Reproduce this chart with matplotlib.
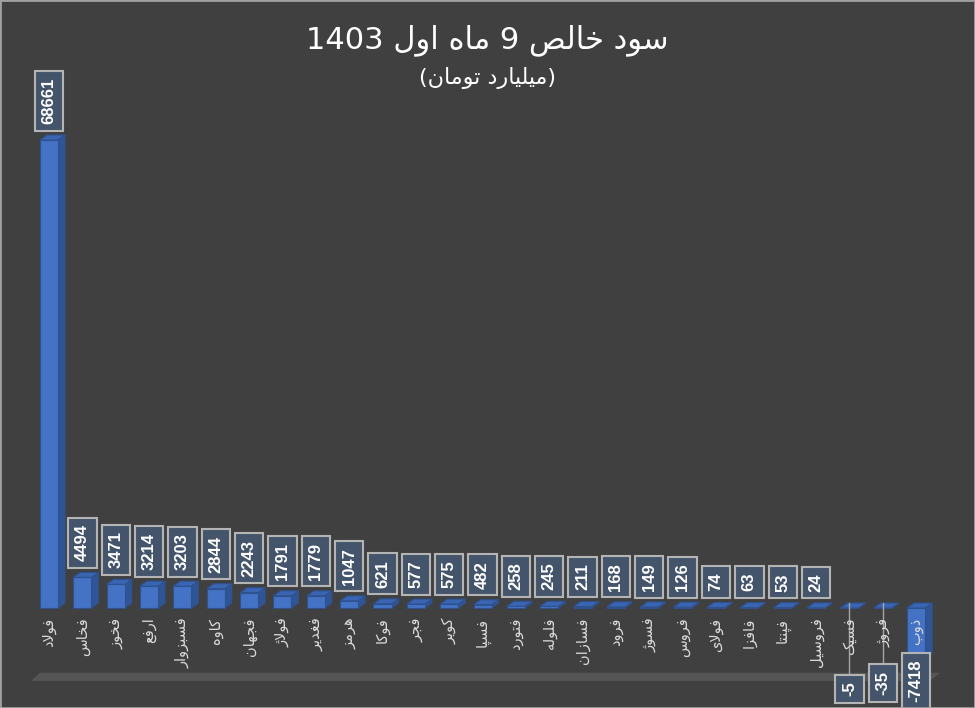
import matplotlib
matplotlib.use("Agg")
import matplotlib.pyplot as plt
from matplotlib.patches import Polygon, Rectangle

# داده‌ها (میلیارد تومان)
names = ["فولاد", "فخاس", "فخوز", "ارفع", "فسبزوار", "کاوه", "فجهان", "فولاژ", "فغدیر",
         "هرمز", "فوکا", "فجر", "کویر", "فسپا", "فتورد", "فلوله", "فسازان", "فرود",
         "فسوژ", "فروس", "فولای", "فافزا", "فپنتا", "فروسیل", "فسیک", "فروژ", "ذوب"]
profits = [68661, 4494, 3471, 3214, 3203, 2844, 2243, 1791, 1779, 1047, 621, 577, 575,
           482, 258, 245, 211, 168, 149, 126, 74, 63, 53, 24, -5, -35, -7418]

title = "سود خالص 9 ماه اول 1403"
subtitle = "(میلیارد تومان)"

# شکل‌دهی حروف فارسی (matplotlib خودش این کار را نمی‌کند)
FORMS = {
    'ا': ('\uFE8D', '\uFE8E', None, None),
    'ب': ('\uFE8F', '\uFE90', '\uFE91', '\uFE92'),
    'پ': ('\uFB56', '\uFB57', '\uFB58', '\uFB59'),
    'ت': ('\uFE95', '\uFE96', '\uFE97', '\uFE98'),
    'ج': ('\uFE9D', '\uFE9E', '\uFE9F', '\uFEA0'),
    'خ': ('\uFEA5', '\uFEA6', '\uFEA7', '\uFEA8'),
    'د': ('\uFEA9', '\uFEAA', None, None),
    'ذ': ('\uFEAB', '\uFEAC', None, None),
    'ر': ('\uFEAD', '\uFEAE', None, None),
    'ز': ('\uFEAF', '\uFEB0', None, None),
    'ژ': ('\uFB8A', '\uFB8B', None, None),
    'س': ('\uFEB1', '\uFEB2', '\uFEB3', '\uFEB4'),
    'ص': ('\uFEB9', '\uFEBA', '\uFEBB', '\uFEBC'),
    'ع': ('\uFEC9', '\uFECA', '\uFECB', '\uFECC'),
    'غ': ('\uFECD', '\uFECE', '\uFECF', '\uFED0'),
    'ف': ('\uFED1', '\uFED2', '\uFED3', '\uFED4'),
    'ک': ('\uFB8E', '\uFB8F', '\uFB90', '\uFB91'),
    'ل': ('\uFEDD', '\uFEDE', '\uFEDF', '\uFEE0'),
    'م': ('\uFEE1', '\uFEE2', '\uFEE3', '\uFEE4'),
    'ن': ('\uFEE5', '\uFEE6', '\uFEE7', '\uFEE8'),
    'ه': ('\uFEE9', '\uFEEA', '\uFEEB', '\uFEEC'),
    'و': ('\uFEED', '\uFEEE', None, None),
    'ی': ('\uFBFC', '\uFBFD', '\uFBFE', '\uFBFF'),
}


def shape_word(word):
    if not any(c in FORMS for c in word):
        return word
    toks = []
    i = 0
    while i < len(word):
        if word[i] == 'ل' and i + 1 < len(word) and word[i + 1] == 'ا':
            toks.append('لا')
            i += 2
        else:
            toks.append(word[i])
            i += 1

    def dual(t):
        return t in FORMS and FORMS[t][2] is not None

    def joins(t):
        return t in FORMS or t == 'لا'

    out = []
    for k, t in enumerate(toks):
        prev_c = k > 0 and dual(toks[k - 1]) and joins(t)
        next_c = k < len(toks) - 1 and dual(t) and joins(toks[k + 1])
        if t == 'لا':
            g = '\uFEFC' if prev_c else '\uFEFB'
        elif t not in FORMS:
            g = t
        else:
            iso, fin, ini, med = FORMS[t]
            if prev_c and next_c:
                g = med
            elif prev_c:
                g = fin
            elif next_c:
                g = ini
            else:
                g = iso
        out.append(g)
    vis = ''.join(out)[::-1]
    return vis.translate(str.maketrans('()', ')('))


def rtl(text):
    return ' '.join(shape_word(w) for w in reversed(text.split(' ')))


BG = '#404040'
FRONT = '#4472C4'
SIDE = '#2F5597'
TOP = '#3A65B3'
EDGE = '#2F528F'
LABEL_FC = '#44546A'
LABEL_EC = '#B4B4B4'

fig = plt.figure(figsize=(9.75, 7.08), dpi=100, facecolor=BG)
ax = fig.add_axes([0, 0, 1, 1])
ax.set_facecolor(BG)

# مقیاس‌ها: صفر حدود پیکسل 608 از بالا
px_per_val = 468 / 68661
ax.set_ylim(-100 / px_per_val, 608 / px_per_val)
ax.set_xlim(-49 / 33.35, 926 / 33.35)
ax.axis('off')

w = 0.54               # پهنای بار
dx = 7 / 33.35         # عمق سه‌بعدی افقی
dy = 5 / px_per_val    # عمق سه‌بعدی عمودی

# کف نمودار
fl = -10000
floor = Polygon([(-0.54, fl - 700), (26.42, fl - 700), (26.72, fl + 500), (-0.27, fl + 500)],
                closed=True, fc='#555555', ec='none', zorder=1)
ax.add_patch(floor)

x = list(range(len(names)))
ax.bar(x, profits, width=w, color=FRONT, edgecolor=EDGE, linewidth=0.8, zorder=3)

for i, v in zip(x, profits):
    l, r = i - w / 2, i + w / 2
    top_v = max(v, 0)
    side = Polygon([(r, min(v, 0)), (r, top_v), (r + dx, top_v + dy), (r + dx, min(v, 0) + dy)],
                   closed=True, fc=SIDE, ec=EDGE, lw=0.8, zorder=2.5)
    top = Polygon([(l, top_v), (r, top_v), (r + dx, top_v + dy), (l + dx, top_v + dy)],
                  closed=True, fc=TOP, ec=EDGE, lw=0.8, zorder=3.5)
    ax.add_patch(side)
    ax.add_patch(top)

box = dict(boxstyle='square,pad=0.4', fc=LABEL_FC, ec=LABEL_EC, lw=1.5)
for i, v in zip(x, profits):
    if v >= 0:
        ax.annotate(str(v), xy=(i, v + dy), xytext=(0, 8), textcoords='offset points',
                    ha='center', va='bottom', rotation=90, color='white',
                    fontsize=12, fontweight='bold', family='Liberation Sans',
                    bbox=box, zorder=6)
    elif abs(v) < 1000:
        # برچسب با خط راهنما
        ly = -9800 if abs(v) < 10 else -8200
        ax.plot([i, i], [dy, ly], color='#A6A6A6', lw=1, zorder=5)
        ax.annotate(str(v), xy=(i, ly), xytext=(0, -5), textcoords='offset points',
                    ha='center', va='top', rotation=90, color='white',
                    fontsize=12, fontweight='bold', family='Liberation Sans',
                    bbox=box, zorder=6)
    else:
        ax.annotate(str(v), xy=(i, v), xytext=(0, -1), textcoords='offset points',
                    ha='center', va='top', rotation=90, color='white',
                    fontsize=12, fontweight='bold', family='Liberation Sans',
                    bbox=box, zorder=6)

# نام نمادها
for i, n in zip(x, names):
    ax.annotate(rtl(n), xy=(i, 0), xytext=(0, -7), textcoords='offset points',
                ha='center', va='top', rotation=90, color='#D9D9D9',
                fontsize=10.5, family='DejaVu Sans', zorder=7)

fig.text(0.5, 1 - 40 / 708, rtl(title), ha='center', va='center', color='white',
         fontsize=22, family='DejaVu Sans')
fig.text(0.5, 1 - 78 / 708, rtl(subtitle), ha='center', va='center', color='white',
         fontsize=16, family='DejaVu Sans')

fig.patches.append(Rectangle((0, 0), 1, 1, transform=fig.transFigure, fill=False,
                             ec='#A0A0A0', lw=2))

fig.savefig('out.png', dpi=100, facecolor=BG)
